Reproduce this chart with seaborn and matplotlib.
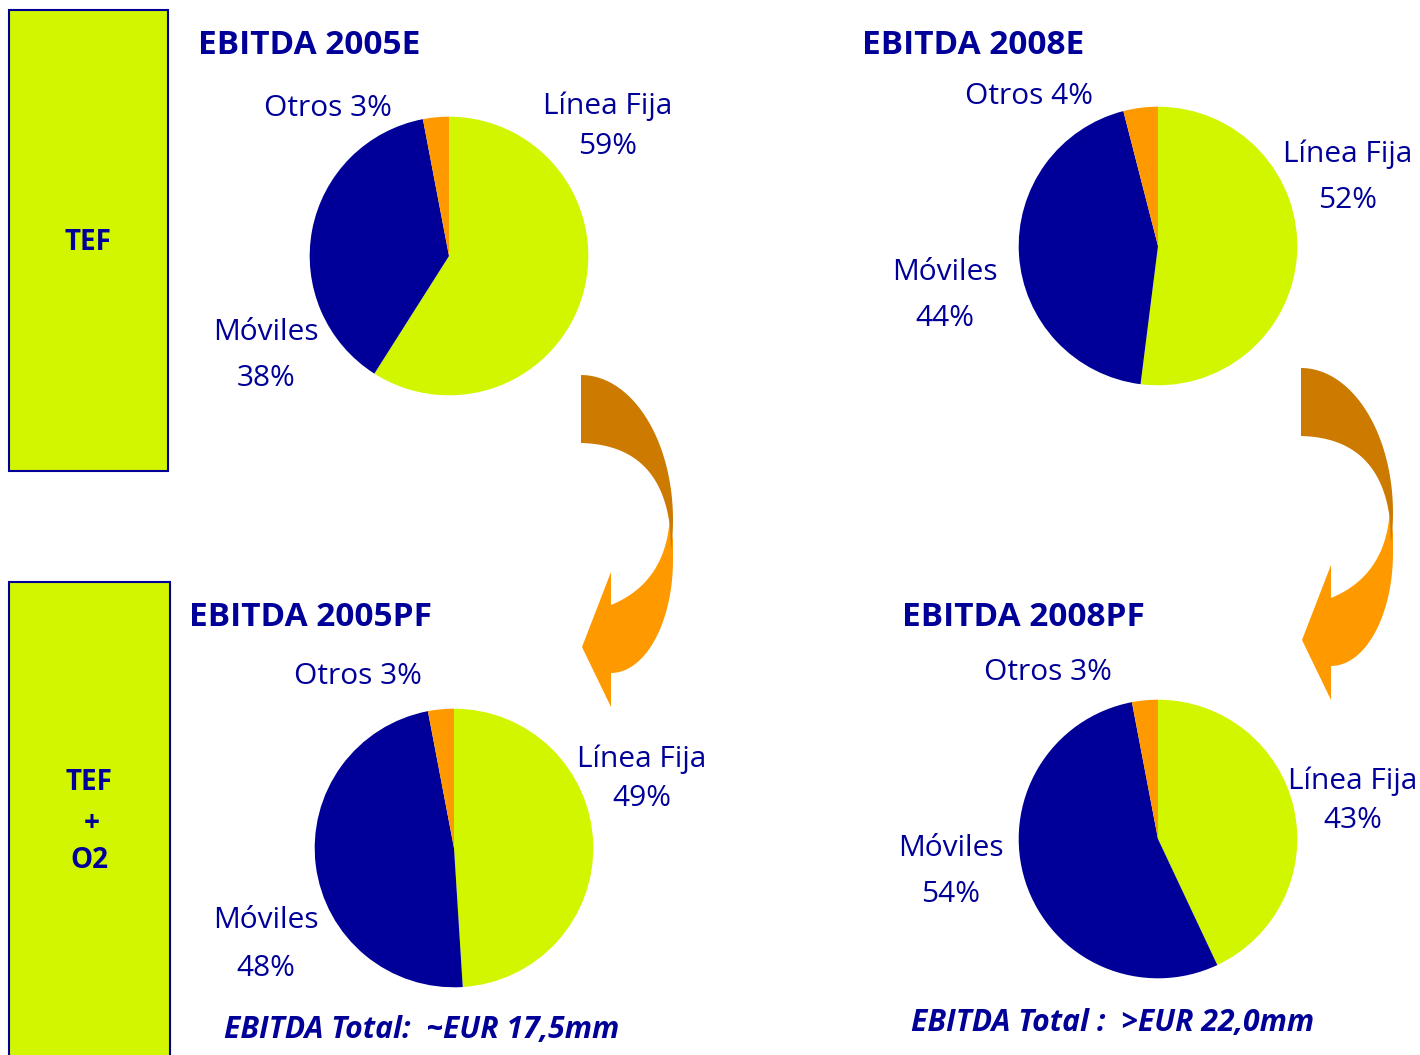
import numpy as np
import matplotlib
matplotlib.use("Agg")
import matplotlib.pyplot as plt
import seaborn as sns
from matplotlib.patches import Rectangle, Polygon

# data
segments = ["Línea Fija", "Móviles", "Otros"]
ebitda_2005e = [59, 38, 3]
ebitda_2008e = [52, 44, 4]
ebitda_2005pf = [49, 48, 3]
ebitda_2008pf = [43, 54, 3]
titles = ["EBITDA 2005E", "EBITDA 2008E", "EBITDA 2005PF", "EBITDA 2008PF"]
totals = ["EBITDA Total:  ~EUR 17,5mm", "EBITDA Total :  >EUR 22,0mm"]
row_labels = ["TEF", "TEF", "+", "O2"]

LIME = "#D2F500"
NAVY = "#000099"
ORANGE = "#FF9900"
DARK = "#CC7A00"

sns.set_theme(style="white")
plt.rcParams["font.family"] = ["Open Sans", "DejaVu Sans"]

W, H = 1420, 1055
fig = plt.figure(figsize=(W / 100, H / 100), dpi=100)
bg = fig.add_axes([0, 0, 1, 1])
bg.set_xlim(0, W)
bg.set_ylim(H, 0)
bg.axis("off")

# side boxes
bg.add_patch(Rectangle((9, 10), 159, 461, facecolor=LIME, edgecolor=NAVY, lw=1.5))
bg.add_patch(Rectangle((9, 582), 161, 490, facecolor=LIME, edgecolor=NAVY, lw=1.5))
bg.text(88, 243, row_labels[0], color=NAVY, fontsize=20, weight="bold", ha="center", va="center")
bg.text(89, 783, row_labels[1], color=NAVY, fontsize=20, weight="bold", ha="center", va="center")
bg.text(92, 823, row_labels[2], color=NAVY, fontsize=20, weight="bold", ha="center", va="center")
bg.text(89, 860, row_labels[3], color=NAVY, fontsize=20, weight="bold", ha="center", va="center")


def draw_pie(values, cx, cy, r=140):
    ax = fig.add_axes([(cx - r) / W, 1 - (cy + r) / H, 2 * r / W, 2 * r / H])
    ax.pie(values, colors=sns.color_palette([LIME, NAVY, ORANGE]), startangle=90,
           counterclock=False, radius=1, wedgeprops={"linewidth": 0, "edgecolor": "none"})
    ax.set_xlim(-1.005, 1.005)
    ax.set_ylim(-1.005, 1.005)
    ax.axis("off")


def lbl(x, y, s):
    bg.text(x, y + 3, s, color=NAVY, fontsize=21.5, ha="center", va="center")


def title(x, y, s):
    bg.text(x, y + 4, s, color=NAVY, fontsize=24, weight="bold", ha="left", va="center")


def ellipse(cx, cy, rx, ry, a0, a1, n=50):
    t = np.radians(np.linspace(a0, a1, n))
    return np.column_stack([cx + rx * np.cos(t), cy - ry * np.sin(t)])


def bezier(p0, p1, p2, n=50):
    t = np.linspace(0, 1, n)[:, None]
    p0, p1, p2 = map(np.array, (p0, p1, p2))
    return (1 - t) ** 2 * p0 + 2 * (1 - t) * t * p1 + t ** 2 * p2


def curved_arrow(dx, dy):
    off = np.array([dx, dy])
    light = np.vstack([
        [[668, 512], [673, 540]],
        ellipse(611, 560, 62, 113, 0, -90),
        [[611, 707], [582, 647], [611, 572], [611, 605]],
        bezier((611, 605), (667, 582), (670, 515)),
    ])
    dark = np.vstack([
        ellipse(581, 520, 92, 145, 90, -12),
        bezier((670, 527), (660, 445), (581, 443)),
    ])
    bg.add_patch(Polygon(light + off, closed=True, facecolor=ORANGE, edgecolor="none"))
    bg.add_patch(Polygon(dark + off, closed=True, facecolor=DARK, edgecolor="none"))


curved_arrow(0, 0)
curved_arrow(720, -7)

# EBITDA 2005E
title(198, 42, titles[0])
draw_pie(ebitda_2005e, 449, 256)
lbl(328, 106, f"Otros {ebitda_2005e[2]}%")
lbl(608, 103, segments[0])
lbl(608, 143, f"{ebitda_2005e[0]}%")
lbl(266, 329, segments[1])
lbl(266, 375, f"{ebitda_2005e[1]}%")

# EBITDA 2008E
title(862, 42, titles[1])
draw_pie(ebitda_2008e, 1158, 246)
lbl(1029, 93, f"Otros {ebitda_2008e[2]}%")
lbl(1348, 151, segments[0])
lbl(1348, 197, f"{ebitda_2008e[0]}%")
lbl(945, 270, segments[1])
lbl(945, 316, f"{ebitda_2008e[1]}%")

# EBITDA 2005PF
title(189, 614, titles[2])
draw_pie(ebitda_2005pf, 454, 848)
lbl(358, 674, f"Otros {ebitda_2005pf[2]}%")
lbl(642, 756, segments[0])
lbl(642, 795, f"{ebitda_2005pf[0]}%")
lbl(266, 918, segments[1])
lbl(266, 965, f"{ebitda_2005pf[1]}%")

# EBITDA 2008PF
title(902, 614, titles[3])
draw_pie(ebitda_2008pf, 1158, 839)
lbl(1048, 669, f"Otros {ebitda_2008pf[2]}%")
lbl(1353, 778, segments[0])
lbl(1353, 818, f"{ebitda_2008pf[0]}%")
lbl(951, 845, segments[1])
lbl(951, 892, f"{ebitda_2008pf[1]}%")

bg.text(224, 1030, totals[0], color=NAVY, fontsize=21.7, weight="bold", style="italic",
        ha="left", va="center")
bg.text(911, 1023, totals[1], color=NAVY, fontsize=21.7, weight="bold", style="italic",
        ha="left", va="center")

fig.savefig("out.png", dpi=100)
